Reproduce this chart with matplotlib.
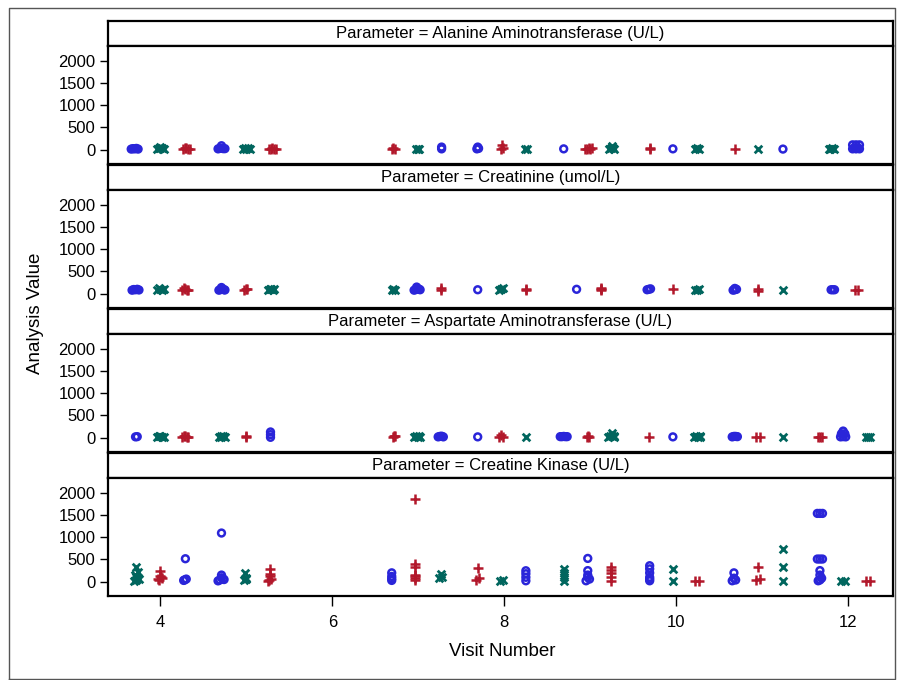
import matplotlib
matplotlib.use("Agg")
import matplotlib.pyplot as plt
from matplotlib.lines import Line2D

plt.rcParams["font.family"] = ["Liberation Sans", "DejaVu Sans"]

W, H = 899, 680

PARAMS = [
    "Alanine Aminotransferase (U/L)",
    "Creatinine (umol/L)",
    "Aspartate Aminotransferase (U/L)",
    "Creatine Kinase (U/L)",
]

BLUE, GREEN, RED = "#2A25D9", "#01665E", "#B2182B"

# clusters per parameter: (group, x positions, analysis values)
ALT = [
    ("B", [3.66, 3.68, 3.70, 3.72, 3.74], [15, 25, 20, 30, 15]),
    ("G", [3.96, 3.98, 4.00, 4.02, 4.04, 4.00], [20, 35, 30, 40, 25, 70]),
    ("R", [4.26, 4.28, 4.30, 4.32, 4.34], [15, 35, 30, 25, 20]),
    ("B", [4.67, 4.69, 4.71, 4.73, 4.75, 4.71], [20, 30, 35, 25, 25, 90]),
    ("G", [4.96, 4.98, 5.00, 5.02, 5.04], [20, 30, 25, 35, 15]),
    ("R", [5.26, 5.28, 5.30, 5.32, 5.34], [15, 25, 30, 20, 10]),
    ("R", [6.69, 6.71, 6.73], [15, 40, 25]),
    ("G", [6.97, 6.99, 7.01], [10, 25, 20]),
    ("B", [7.27, 7.27], [20, 60]),
    ("B", [7.68, 7.70, 7.69], [20, 30, 60]),
    ("R", [7.96, 7.98, 7.97], [20, 30, 110]),
    ("G", [8.24, 8.26], [20, 25]),
    ("B", [8.69], [20]),
    ("R", [8.94, 8.96, 8.98, 9.00, 9.02], [25, 20, 30, 20, 30]),
    ("G", [9.22, 9.24, 9.26, 9.28, 9.25], [20, 30, 40, 25, 80]),
    ("R", [9.69, 9.69], [30, 20]),
    ("B", [9.96], [20]),
    ("G", [10.22, 10.24, 10.26], [20, 30, 25]),
    ("R", [10.68], [20]),
    ("G", [10.95], [15]),
    ("B", [11.24], [15]),
    ("G", [11.77, 11.79, 11.81, 11.83], [20, 25, 30, 20]),
    ("B", [12.05, 12.09, 12.13, 12.05, 12.09, 12.13, 12.07, 12.11],
     [20, 20, 20, 110, 110, 110, 40, 40]),
]

CREAT = [
    ("B", [3.67, 3.69, 3.71, 3.73, 3.75], [80, 95, 90, 100, 85]),
    ("G", [3.96, 3.98, 4.00, 4.02, 4.04], [90, 120, 110, 95, 100]),
    ("R", [4.25, 4.27, 4.29, 4.31, 4.32], [90, 120, 110, 95, 80]),
    ("B", [4.68, 4.70, 4.72, 4.74, 4.75, 4.71], [80, 95, 100, 90, 85, 140]),
    ("R", [4.97, 4.99, 5.01], [85, 100, 110]),
    ("G", [5.25, 5.27, 5.29, 5.31, 5.32], [90, 105, 110, 95, 100]),
    ("G", [6.69, 6.71, 6.73], [90, 100, 95]),
    ("B", [6.95, 6.97, 6.99, 7.01, 7.02, 6.98], [80, 95, 110, 100, 90, 150]),
    ("R", [7.26, 7.26], [80, 120]),
    ("B", [7.69], [90]),
    ("G", [7.94, 7.96, 7.98], [90, 110, 130]),
    ("R", [8.25, 8.25], [90, 110]),
    ("B", [8.84], [100]),
    ("R", [9.12, 9.12, 9.12], [90, 130, 110]),
    ("B", [9.66, 9.68, 9.70], [90, 100, 110]),
    ("R", [9.96], [100]),
    ("G", [10.22, 10.24, 10.26], [80, 95, 100]),
    ("B", [10.66, 10.68, 10.70, 10.68], [80, 90, 100, 120]),
    ("R", [10.95, 10.95], [70, 100]),
    ("G", [11.24], [90]),
    ("B", [11.80, 11.82, 11.84], [90, 90, 90]),
    ("R", [12.08, 12.11], [90, 90]),
]

AST = [
    ("B", [3.71, 3.73], [20, 25]),
    ("G", [3.96, 3.98, 4.00, 4.02, 4.04], [20, 35, 30, 25, 25]),
    ("R", [4.25, 4.27, 4.29, 4.31, 4.32], [20, 35, 30, 25, 25]),
    ("G", [4.68, 4.70, 4.71, 4.73, 4.75], [20, 30, 25, 30, 20]),
    ("R", [4.99, 4.99], [15, 30]),
    ("B", [5.28, 5.28, 5.28], [10, 70, 130]),
    ("R", [6.70, 6.72, 6.73], [20, 35, 30]),
    ("G", [6.95, 6.97, 6.99, 7.01, 7.02], [20, 30, 25, 30, 20]),
    ("B", [7.23, 7.25, 7.27, 7.29], [20, 30, 35, 20]),
    ("B", [7.69], [20]),
    ("R", [7.94, 7.98, 7.96], [20, 25, 60]),
    ("G", [8.25], [20]),
    ("B", [8.65, 8.67, 8.69, 8.71, 8.73], [25, 25, 30, 25, 25]),
    ("R", [8.96, 8.98, 8.97], [20, 15, 30]),
    ("G", [9.21, 9.23, 9.25, 9.27, 9.28, 9.25], [20, 30, 40, 35, 25, 110]),
    ("R", [9.68], [20]),
    ("B", [9.96], [20]),
    ("G", [10.21, 10.23, 10.25, 10.27, 10.28], [20, 30, 25, 30, 20]),
    ("B", [10.65, 10.67, 10.69, 10.71], [20, 30, 30, 25]),
    ("R", [10.93, 10.97], [20, 20]),
    ("G", [11.24], [15]),
    ("R", [11.65, 11.67, 11.69], [20, 25, 20]),
    ("B", [11.91, 11.94, 11.97, 11.92, 11.96, 11.94], [20, 25, 20, 90, 90, 150]),
    ("G", [12.21, 12.23, 12.25], [20, 25, 20]),
]

CK = [
    ("G", [3.69, 3.75, 3.72, 3.70, 3.74, 3.72, 3.71, 3.73, 3.72],
     [20, 60, 110, 160, 220, 340, 40, 90, 130]),
    ("R", [3.98, 4.02, 4.00, 3.97, 4.00, 4.01], [30, 80, 130, 60, 250, 100]),
    ("B", [4.27, 4.30, 4.28, 4.29], [30, 60, 40, 517]),
    ("B", [4.67, 4.74, 4.71, 4.69, 4.73, 4.71, 4.71], [20, 50, 90, 40, 60, 150, 1094]),
    ("G", [4.97, 5.00, 4.98, 4.99], [30, 90, 200, 60]),
    ("R", [5.25, 5.29, 5.27, 5.27, 5.27, 5.26], [20, 60, 120, 180, 280, 40]),
    ("B", [6.69, 6.69, 6.69, 6.69], [30, 70, 120, 200]),
    ("R", [6.96] * 7, [30, 80, 120, 150, 337, 404, 1850]),
    ("G", [7.24, 7.28, 7.26], [80, 100, 180]),
    ("R", [7.67, 7.71, 7.69], [40, 80, 307]),
    ("G", [7.95, 7.98], [22, 30]),
    ("B", [8.25] * 4, [22, 100, 180, 247]),
    ("G", [8.69] * 4, [22, 100, 200, 290]),
    ("B", [8.95, 8.99, 8.97, 8.97, 8.97, 8.97], [22, 60, 100, 150, 250, 524]),
    ("R", [9.24] * 5, [22, 100, 200, 270, 330]),
    ("B", [9.69] * 6, [22, 60, 100, 200, 290, 360]),
    ("G", [9.96, 9.96], [22, 290]),
    ("R", [10.22, 10.26], [22, 22]),
    ("B", [10.65, 10.69, 10.67, 10.67], [22, 40, 80, 200]),
    ("R", [10.93, 10.97, 10.95], [45, 60, 322]),
    ("G", [11.24] * 3, [22, 322, 734]),
    ("B", [11.65, 11.69, 11.67, 11.67, 11.67, 11.64, 11.67, 11.70, 11.64, 11.67, 11.70],
     [22, 80, 150, 40, 250, 510, 510, 510, 1535, 1535, 1535]),
    ("G", [11.92, 11.96], [22, 22]),
    ("R", [12.21, 12.25], [22, 22]),
]

PANELS = [ALT, CREAT, AST, CK]
YTICKS = [0, 500, 1000, 1500, 2000]
XTICKS = [4, 6, 8, 10, 12]


def px_rect(x0, y0, x1, y1):
    # pixel box (top-left origin) -> figure fraction rect
    return [x0 / W, 1 - y1 / H, (x1 - x0) / W, (y1 - y0) / H]


def draw_group(ax, g, xs, ys):
    if g == "B":
        ax.scatter(xs, ys, s=24, marker="o", facecolors="none",
                   edgecolors=BLUE, linewidths=1.8, zorder=3)
    elif g == "G":
        ax.scatter(xs, ys, s=30, marker="x", color=GREEN, linewidths=2.0, zorder=3)
    else:
        ax.scatter(xs, ys, s=50, marker="+", color=RED, linewidths=1.8, zorder=3)


fig = plt.figure(figsize=(W / 100, H / 100), dpi=100)

# outer border
fig.add_artist(Line2D([9 / W, 9 / W, 895 / W, 895 / W, 9 / W],
                      [1 - 679 / H, 1 - 8 / H, 1 - 8 / H, 1 - 679 / H, 1 - 679 / H],
                      transform=fig.transFigure, color="#555555", lw=1))

for i, (name, clusters) in enumerate(zip(PARAMS, PANELS)):
    top = 21 + 144 * i
    hax = fig.add_axes(px_rect(108, top, 893, top + 25))
    hax.set_xticks([])
    hax.set_yticks([])
    for sp in hax.spines.values():
        sp.set_linewidth(1.6)
    hax.text(0.5, 0.5, f"Parameter = {name}", ha="center", va="center",
             fontsize=12, transform=hax.transAxes)

    ax = fig.add_axes(px_rect(108, top + 25, 893, top + 143))
    for g, xs, ys in clusters:
        draw_group(ax, g, xs, ys)
    ax.set_xlim(3.39, 12.52)
    ax.set_ylim(-320, 2330)
    ax.set_yticks(YTICKS)
    ax.tick_params(axis="y", length=6, width=1, labelsize=12, pad=3)
    for sp in ax.spines.values():
        sp.set_linewidth(1.6)
    if i < 3:
        ax.set_xticks([])
    else:
        ax.set_xticks(XTICKS)
        ax.tick_params(axis="x", length=7, width=1, labelsize=12, pad=7)

fig.text(35 / W, 1 - 313 / H, "Analysis Value", rotation=90, ha="center",
         va="center", fontsize=13.5)
fig.text(502 / W, 1 - 652 / H, "Visit Number", ha="center", va="center",
         fontsize=13.5)

fig.savefig("out.png", dpi=100)
